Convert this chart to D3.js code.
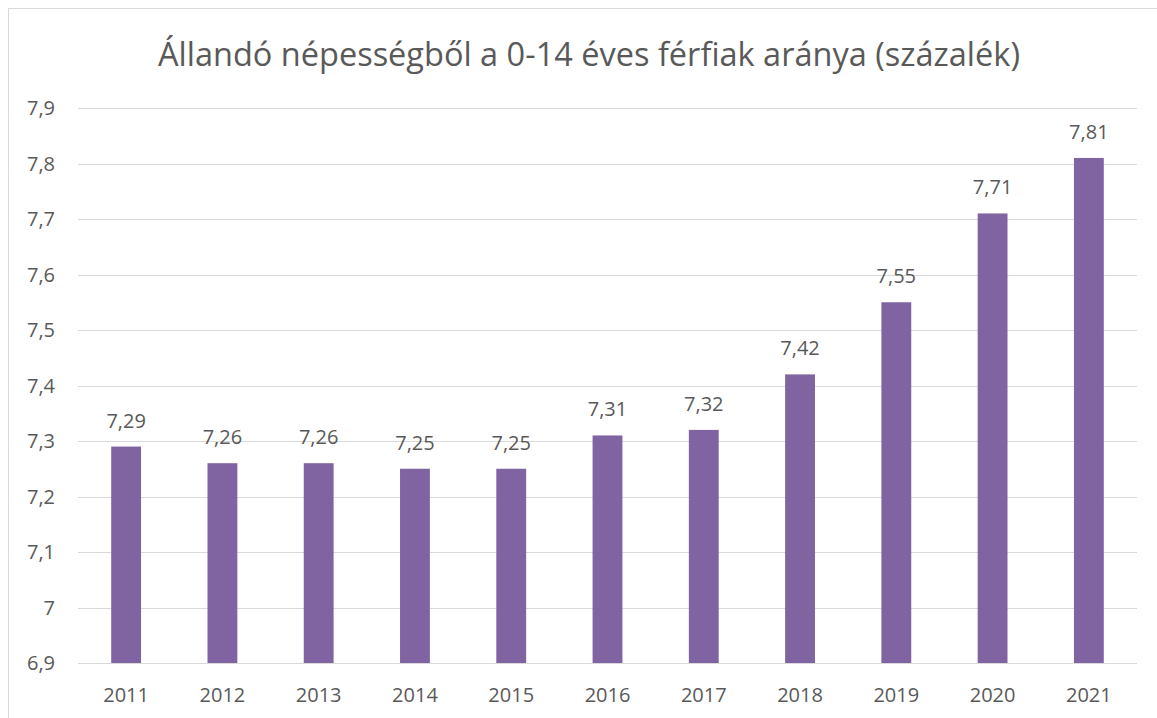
<!DOCTYPE html>
<html>
<head>
<meta charset="utf-8">
<script src="https://cdn.jsdelivr.net/npm/d3@7"></script>
<style>
  body { margin: 0; background: #fff; }
  svg text { font-family: "Open Sans", "Noto Sans", sans-serif; fill: #595959; }
</style>
</head>
<body>
<svg id="chart" width="1157" height="718"></svg>
<script>
const years = ['2011', '2012', '2013', '2014', '2015', '2016', '2017', '2018', '2019', '2020', '2021'];
const values = [7.29, 7.26, 7.26, 7.25, 7.25, 7.31, 7.32, 7.42, 7.55, 7.71, 7.81];
const yTicks = [6.9, 7.0, 7.1, 7.2, 7.3, 7.4, 7.5, 7.6, 7.7, 7.8, 7.9];
const title = 'Állandó népességből a 0-14 éves férfiak aránya (százalék)';

const svg = d3.select('#chart');
const plotLeft = 78, plotRight = 1137, plotTop = 108, plotBottom = 663;

// outer chart border
svg.append('rect')
    .attr('x', 8.5).attr('y', 8.5)
    .attr('width', 1170).attr('height', 730)
    .attr('fill', 'none')
    .attr('stroke', '#d9d9d9');

const x = d3.scaleBand().domain(years).range([plotLeft, plotRight]).paddingInner(0.69).paddingOuter(0.345);
const y = d3.scaleLinear().domain([6.9, 7.9]).range([plotBottom, plotTop]);
const fmt = v => String(+v.toFixed(2)).replace('.', ',');

// gridlines
svg.append('g').selectAll('line')
    .data(yTicks)
    .enter().append('line')
    .attr('x1', plotLeft).attr('x2', plotRight)
    .attr('y1', d => Math.round(y(d)) + 0.5)
    .attr('y2', d => Math.round(y(d)) + 0.5)
    .attr('stroke', '#d9d9d9')
    .attr('stroke-width', 1);

// y tick labels
svg.append('g').selectAll('text')
    .data(yTicks)
    .enter().append('text')
    .attr('x', 55)
    .attr('y', d => y(d))
    .attr('dy', '0.36em')
    .attr('text-anchor', 'end')
    .style('font-size', '20px')
    .text(d => fmt(d));

// bars
svg.append('g').selectAll('rect')
    .data(values)
    .enter().append('rect')
    .attr('x', (d, i) => x(years[i]))
    .attr('y', d => y(d))
    .attr('width', x.bandwidth())
    .attr('height', d => plotBottom - y(d))
    .attr('fill', '#8064a2');

// value labels
svg.append('g').selectAll('text')
    .data(values)
    .enter().append('text')
    .attr('x', (d, i) => x(years[i]) + x.bandwidth() / 2)
    .attr('y', d => y(d) - 19)
    .attr('text-anchor', 'middle')
    .style('font-size', '20px')
    .text(d => fmt(d));

// x labels
svg.append('g').selectAll('text')
    .data(years)
    .enter().append('text')
    .attr('x', d => x(d) + x.bandwidth() / 2)
    .attr('y', 702)
    .attr('text-anchor', 'middle')
    .style('font-size', '20px')
    .text(d => d);

// title
svg.append('text')
    .attr('x', 589)
    .attr('y', 66)
    .attr('text-anchor', 'middle')
    .style('font-size', '32.5px')
    .text(title);
</script>
</body>
</html>
